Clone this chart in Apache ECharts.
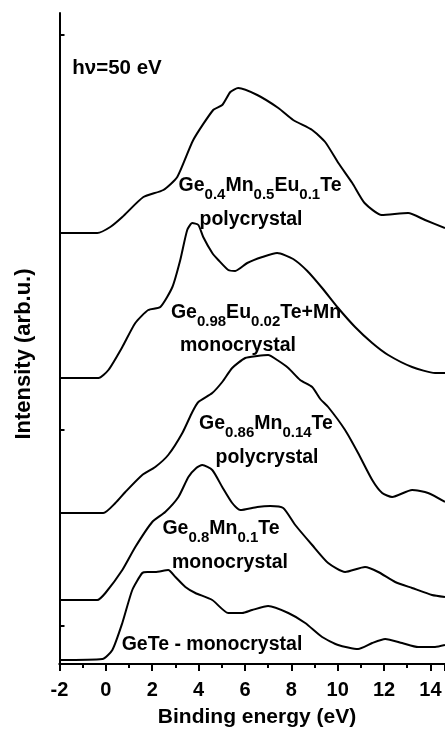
<!DOCTYPE html>
<html>
<head>
<meta charset="utf-8">
<script src="https://cdn.jsdelivr.net/npm/echarts@6/dist/echarts.min.js"></script>
<style>
html,body{margin:0;padding:0;background:#fff;}
#chart{width:445px;height:729px;}
</style>
</head>
<body>
<div id="chart"></div>
<script>
// Binding energy (eV) / intensity (arb. u., stacked with offsets as in the figure)
var geMnEuPoly = [[-2,431],[-0.37,431],[0.19,437],[0.71,447],[1.62,467],[2.48,474],[3.08,487],[3.77,524],[4.63,554],[5.02,559],[5.37,572],[5.71,576],[6.53,569],[7.44,556],[8.08,544],[8.9,534],[9.46,522],[10.03,501],[10.63,481],[11.16,461],[11.9,449],[13.04,451],[13.77,444],[14.63,436]];
var geEuMnMono = [[-2,286],[-0.32,286],[0.11,294],[0.71,317],[1.27,341],[1.83,354],[2.35,357],[2.87,377],[3.21,404],[3.51,434],[3.73,441],[3.99,439],[4.2,427],[4.59,411],[4.85,404],[5.28,394],[5.58,393],[6.1,401],[6.75,407],[7.39,411],[8.08,405],[8.69,393],[9.33,376],[10.02,356],[10.75,337],[11.49,321],[12.18,309],[13.21,297],[14.2,291],[14.63,291]];
var geMnPoly = [[-2,151],[-0.11,151],[0.41,161],[0.84,172],[1.57,189],[2.13,197],[2.69,209],[3.3,231],[3.73,252],[3.99,262],[4.59,271],[5.02,282],[5.45,296],[6.01,306],[6.53,308],[7.0,309],[7.39,304],[7.87,296],[8.38,284],[8.9,277],[9.25,265],[9.59,257],[10.32,234],[10.88,211],[11.49,184],[11.92,171],[12.35,167],[13.21,174],[13.9,171],[14.63,162]];
var geMnMono = [[-2,64],[-0.37,64],[-0.02,71],[0.71,94],[1.27,117],[2.0,142],[2.56,152],[3.13,167],[3.56,187],[3.9,196],[4.16,199],[4.59,194],[5.02,177],[5.45,161],[5.8,154],[6.53,157],[7.09,158],[7.65,156],[8.17,139],[8.9,119],[9.59,101],[10.32,92],[11.18,97],[11.75,92],[12.48,82],[13.21,76],[14.07,69],[14.63,67]];
var geTeMono = [[-2,4],[-0.15,5],[0.28,14],[0.71,41],[1.14,74],[1.57,91],[1.79,92],[2.13,92],[2.69,94],[3.0,87],[3.43,77],[3.86,71],[4.59,64],[5.28,51],[5.88,51],[6.31,54],[7.0,58],[7.87,51],[8.6,41],[9.33,27],[10.02,19],[10.88,15],[11.49,21],[12.05,25],[12.78,21],[13.47,17],[14.2,17],[14.63,19]];
var xTicks = [-2,0,2,4,6,8,10,12,14];
var yTickMarks = [38,234,629];

var FONT = '"Liberation Sans", Arial, sans-serif';
var chart = echarts.init(document.getElementById('chart'));
function line(data){
  return {type:'line', data:data, showSymbol:false, smooth:0.2,
    lineStyle:{color:'#000', width:2}, animation:false};
}
var richStyles = {
  m:{fontSize:19.5, fontWeight:'bold', fontFamily:FONT, color:'#000', lineHeight:26, verticalAlign:'top'},
  s:{fontSize:15, fontWeight:'bold', fontFamily:FONT, color:'#000', lineHeight:15, verticalAlign:'bottom'}
};
function richTitle(txt, x, y){
  return {text:txt, left:x, top:y, textAlign:'center', textVerticalAlign:'middle', padding:0,
    textStyle:{rich:richStyles, fontSize:19.5, fontWeight:'bold', fontFamily:FONT, color:'#000'}};
}
function plainLabel(txt, x, y, size, rot){
  return {type:'text', x:x, y:y, rotation:rot||0, style:{text:txt, fontSize:size||19.5, fontWeight:'bold', fontFamily:FONT, fill:'#000', align:'center', verticalAlign:'middle'}};
}
chart.setOption({
  animation:false,
  title:[
    richTitle('{m|Ge}{s|0.4}{m|Mn}{s|0.5}{m|Eu}{s|0.1}{m|Te}', 260, 189),
    richTitle('{m|Ge}{s|0.98}{m|Eu}{s|0.02}{m|Te+Mn}', 256, 316),
    richTitle('{m|Ge}{s|0.86}{m|Mn}{s|0.14}{m|Te}', 266, 427),
    richTitle('{m|Ge}{s|0.8}{m|Mn}{s|0.1}{m|Te}', 221, 532)
  ],
  grid:{left:59.5, right:0, top:13, bottom:65},
  xAxis:[{
    type:'value', min:-2, max:14.63, interval:2,
    axisLine:{show:true, onZero:false, lineStyle:{color:'#000', width:2}},
    axisTick:{show:true, length:7, lineStyle:{color:'#000', width:2}},
    minorTick:{show:true, splitNumber:2, length:4, lineStyle:{color:'#000', width:2}},
    axisLabel:{show:true, margin:16, fontSize:20, fontWeight:'bold', fontFamily:FONT, color:'#000',
      showMaxLabel:false,
      formatter:function(v){ return xTicks.indexOf(v) >= 0 ? String(v) : ''; }},
    splitLine:{show:false}
  },{
    type:'value', position:'top', min:-2, max:14.63,
    axisLine:{show:true, lineStyle:{color:'#000', width:2}},
    axisTick:{show:false}, axisLabel:{show:false}, splitLine:{show:false}
  }],
  yAxis:{
    type:'value', min:0, max:651,
    axisLine:{show:true, onZero:false, lineStyle:{color:'#000', width:2}},
    axisTick:{show:true, inside:true, length:5, customValues:yTickMarks, lineStyle:{color:'#000', width:2}},
    axisLabel:{show:false}, splitLine:{show:false}
  },
  series:[line(geMnEuPoly), line(geEuMnMono), line(geMnPoly), line(geMnMono), line(geTeMono)],
  graphic:[
    plainLabel('Binding energy (eV)', 257, 717, 21),
    plainLabel('Intensity (arb.u.)', 24, 354, 22, Math.PI/2),
    plainLabel('hν=50 eV', 117, 68, 20.5),
    plainLabel('polycrystal', 251, 220),
    plainLabel('monocrystal', 238, 346),
    plainLabel('polycrystal', 267, 458),
    plainLabel('monocrystal', 230, 563),
    plainLabel('GeTe - monocrystal', 212, 645)
  ]
});
</script>
</body>
</html>
